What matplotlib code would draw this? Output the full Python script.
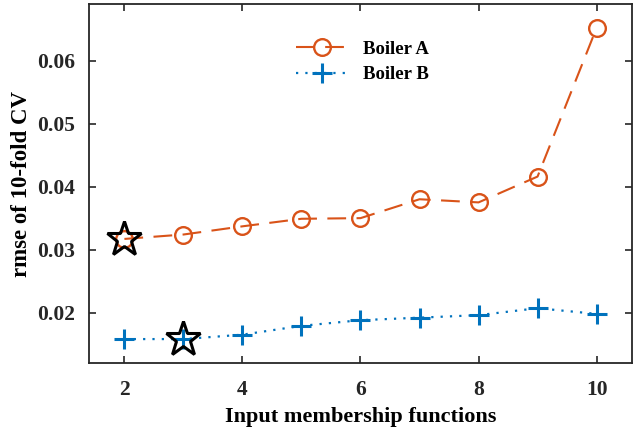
import matplotlib.pyplot as plt

# data
mfs = [2, 3, 4, 5, 6, 7, 8, 9, 10]
boiler_a = [0.0317, 0.0324, 0.0337, 0.0349, 0.0350, 0.0380, 0.0375, 0.0416, 0.0652]
boiler_b = [0.0158, 0.0158, 0.0165, 0.0179, 0.0188, 0.0192, 0.0196, 0.0207, 0.0198]
best_a = (2, 0.0317)
best_b = (3, 0.0158)

plt.rcParams['font.family'] = ['Liberation Serif', 'DejaVu Serif']
plt.rcParams['font.weight'] = 'bold'

fig = plt.figure(figsize=(6.33, 4.38), dpi=100)
ax = fig.add_axes([0.1406, 0.1712, 0.8578, 0.8197])

orange = '#D95319'
blue = '#0072BD'

ax.plot(mfs, boiler_a, color=orange, linestyle=(0, (9, 5)), linewidth=1.5,
        marker='o', markersize=12, markerfacecolor='none', markeredgewidth=1.7,
        label='Boiler A')
ax.plot(mfs, boiler_b, color=blue, linestyle=(0, (1, 3.2)), linewidth=1.6,
        marker='+', markersize=14, markeredgewidth=2.2, label='Boiler B')

for p in (best_a, best_b):
    ax.plot(p[0], p[1], marker='*', markersize=26, markerfacecolor='none',
            markeredgecolor='black', markeredgewidth=2.2, linestyle='none')

ax.set_xlim(1.4, 10.6)
ax.set_ylim(0.012, 0.069)
ax.set_xticks([2, 4, 6, 8, 10])
ax.set_yticks([0.02, 0.03, 0.04, 0.05, 0.06])
ax.set_yticklabels(['0.02', '0.03', '0.04', '0.05', '0.06'])

ax.tick_params(direction='in', length=5, width=1.2, top=True, right=True,
               labelsize=15.5, colors='#262626')
ax.tick_params(axis='x', pad=12)
ax.tick_params(axis='y', pad=10)
for s in ax.spines.values():
    s.set_linewidth(1.3)
    s.set_color('#262626')

ax.set_xlabel('Input membership functions', fontsize=16, fontweight='bold', labelpad=5)
ax.set_ylabel('rmse of 10-fold CV', fontsize=16.5, fontweight='bold', labelpad=4)

ax.legend(loc='upper left', bbox_to_anchor=(0.35, 0.945), frameon=False,
          handlelength=2.8, handletextpad=0.8, labelspacing=0.45,
          prop={'weight': 'bold', 'size': 13.5})

fig.savefig('out.png', dpi=100)
